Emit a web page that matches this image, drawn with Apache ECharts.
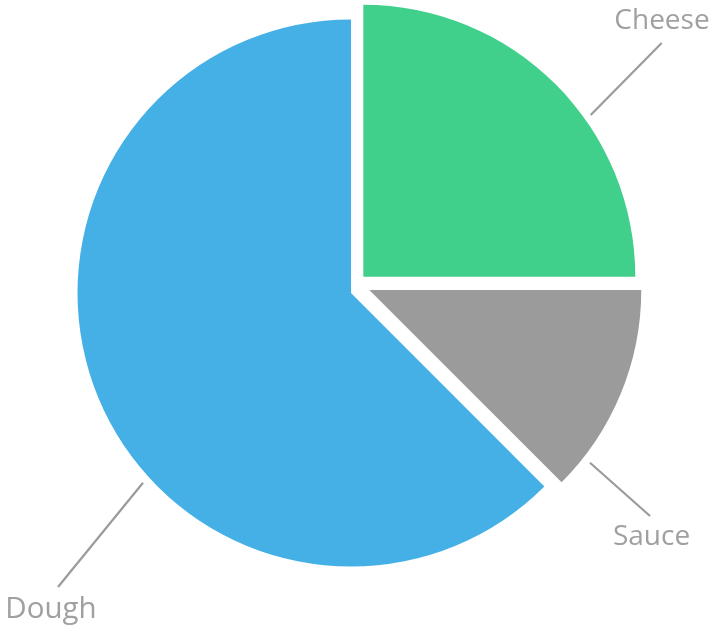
<!DOCTYPE html>
<html>
<head>
<meta charset="utf-8">
<style>
  html, body { margin: 0; padding: 0; background: #ffffff; }
  #chart { width: 718px; height: 635px; }
</style>
<script src="https://cdn.jsdelivr.net/npm/echarts@6/dist/echarts.min.js"></script>
</head>
<body>
<div id="chart"></div>
<script>
// Pizza ingredient shares
const categories = ['Cheese', 'Sauce', 'Dough'];
const values = [25, 12.5, 62.5];

// Styling and layout
const colors = ['#41d08c', '#9b9b9b', '#45b0e6'];
// each slice is pulled out on its own centre, leaving white gaps between slices
const sliceCenters = [[363.3, 276.7], [369.3, 290], [351, 293]];
const sliceRadii = [272, 272, 273.5];
// leader line start/end and label centre for each slice
const leaderLines = [
  [[590.7, 115], [661.7, 43]],
  [[590, 462.7], [650, 516]],
  [[143, 482.7], [58, 587]]
];
const labelCenters = [[662, 21], [651.5, 537.5], [51, 609.5]];
const labelSizes = [28, 28, 29.5];

const chart = echarts.init(document.getElementById('chart'), null, { renderer: 'canvas' });

const series = categories.map(function (cat, k) {
  return {
    type: 'pie',
    silent: true,
    center: sliceCenters[k],
    radius: sliceRadii[k],
    startAngle: 90,
    clockwise: true,
    avoidLabelOverlap: false,
    animation: false,
    emphasis: { disabled: true },
    itemStyle: { borderWidth: 0 },
    label: {
      formatter: '{b}',
      color: '#a0a0a0',
      fontSize: labelSizes[k],
      fontFamily: 'Open Sans',
      position: 'outside'
    },
    labelLine: {
      lineStyle: { color: '#9b9b9b', width: 2.2 }
    },
    labelLayout: function (params) {
      const i = params.dataIndex;
      const l = leaderLines[i];
      return {
        x: labelCenters[i][0],
        y: labelCenters[i][1],
        align: 'center',
        verticalAlign: 'middle',
        labelLinePoints: [l[0], l[1], l[1]]
      };
    },
    data: categories.map(function (name, i) {
      const shown = i === k;
      return {
        name: name,
        value: values[i],
        itemStyle: { color: shown ? colors[i] : 'rgba(0,0,0,0)' },
        label: { show: shown },
        labelLine: { show: shown }
      };
    })
  };
});

chart.setOption({
  backgroundColor: '#ffffff',
  series: series
});
</script>
</body>
</html>
